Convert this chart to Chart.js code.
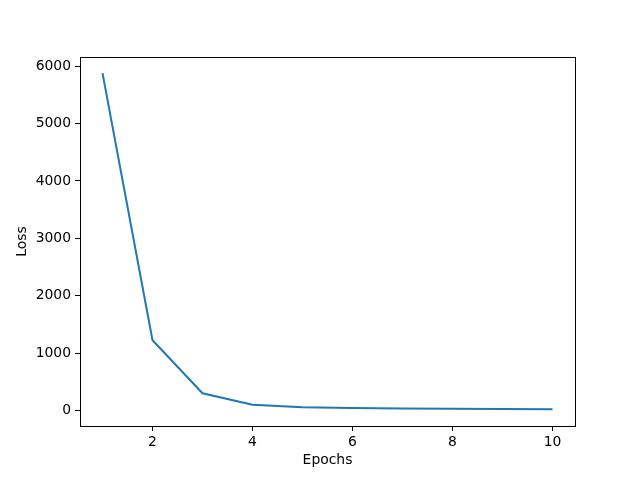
<!DOCTYPE html>
<html>
<head>
<meta charset="utf-8">
<script src="https://cdn.jsdelivr.net/npm/chart.js@4/dist/chart.umd.min.js"></script>
<style>
	body { margin: 0; background: #fff; }
</style>
</head>
<body>
<canvas id="myChart" width="637" height="479"></canvas>
<script>
// data
var epochs = [1, 2, 3, 4, 5, 6, 7, 8, 9, 10];
var loss = [5880, 1225, 300, 100, 55, 44, 36, 30, 26, 22];
var xTicks = [2, 4, 6, 8, 10];
var yTicks = [0, 1000, 2000, 3000, 4000, 5000, 6000];

// frame round the plot area
var frame = {
	id: 'frame',
	afterDraw: function(chart){
		var a = chart.chartArea, c = chart.ctx;
		c.save();
		c.strokeStyle = '#000';
		c.lineWidth = 1;
		c.strokeRect(Math.round(a.left) + 0.5, Math.round(a.top) + 0.5, Math.round(a.right - a.left), Math.round(a.bottom - a.top));
		c.restore();
	}
};

var font = { family: 'DejaVu Sans', size: 13.9 };

var ctx = document.getElementById('myChart').getContext('2d');
var chart = new Chart(ctx, {
	type: 'line',
	data: {
		datasets: [{
			data: epochs.map(function(e, i){ return { x: e, y: loss[i] }; }),
			borderColor: '#1f77b4',
			borderWidth: 2,
			pointRadius: 0,
			tension: 0,
			fill: false
		}]
	},
	options: {
		responsive: false,
		animation: false,
		layout: { padding: { left: 0, top: 57, right: 62, bottom: 0 } },
		plugins: { legend: { display: false }, tooltip: { enabled: false } },
		scales: {
			x: {
				type: 'linear',
				min: 0.55,
				max: 10.45,
				afterBuildTicks: function(s){ s.ticks = xTicks.map(function(v){ return { value: v }; }); },
				afterFit: function(s){ s.height = 53; },
				grid: { drawOnChartArea: false, color: '#000', tickLength: 5, tickWidth: 1 },
				border: { display: false },
				ticks: { color: '#000', font: font, padding: 3, maxRotation: 0, callback: function(v){ return String(v); } },
				title: { display: true, text: 'Epochs', color: '#000', font: font, padding: { top: 0, bottom: 10 } }
			},
			y: {
				min: -270,
				max: 6160,
				afterBuildTicks: function(s){ s.ticks = yTicks.map(function(v){ return { value: v }; }); },
				afterFit: function(s){ s.width = 80; },
				grid: { drawOnChartArea: false, color: '#000', tickLength: 5, tickWidth: 1 },
				border: { display: false },
				ticks: { color: '#000', font: font, padding: 4, callback: function(v){ return String(v); } },
				title: { display: true, text: 'Loss', color: '#000', font: font, padding: { top: 14, bottom: 0 } }
			}
		}
	},
	plugins: [frame]
});
</script>
</body>
</html>
